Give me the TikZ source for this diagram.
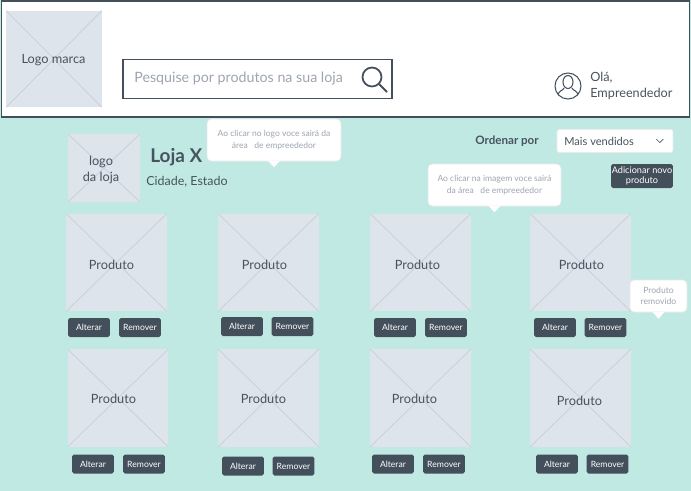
\documentclass[tikz,border=0pt]{standalone}
\usepackage{fontspec}
\setmainfont{Lato}
\usepackage{xcolor}
\usetikzlibrary{positioning,calc,shapes.geometric}
\definecolor{pagebg}{HTML}{C1E9E4}
\definecolor{imgfill}{HTML}{DEE4EC}
\definecolor{imgline}{HTML}{C6CEDA}
\definecolor{darkbtn}{HTML}{444F5C}
\definecolor{darktxt}{HTML}{47545F}
\definecolor{softtxt}{HTML}{9EA5B0}
\tikzset{
  imgbox/.style={fill=imgfill, inner sep=0pt, text=darktxt, align=center,
    path picture={\draw[imgline, line width=0.4pt] (path picture bounding box.north west) -- (path picture bounding box.south east)
      (path picture bounding box.north east) -- (path picture bounding box.south west);}},
  prodbox/.style={imgbox, minimum width=2.02cm, minimum height=1.96cm},
  prodlabel/.style={text=darktxt, font=\fontsize{7.25}{9.4}\selectfont, inner sep=0pt},
  dbtn/.style={fill=darkbtn, rounded corners=1pt, text=white, inner sep=0pt, align=center, font=\fontsize{4.9}{6}\selectfont},
  smallbtn/.style={dbtn, minimum width=0.84cm, minimum height=0.38cm},
  tipbox/.style={fill=white, draw=black!8, line width=0.3pt, rounded corners=2.5pt, inner sep=0pt, align=center, text=softtxt, font=\fontsize{4.85}{7.2}\selectfont},
  plain/.style={inner sep=0pt, text=darktxt, align=left}
}
\begin{document}
\begin{tikzpicture}[x=0.02cm,y=-0.02cm]
\useasboundingbox (0,0) rectangle (691,491);
\fill[pagebg] (0,0) rectangle (691,491);

% header
\node[draw=darkbtn, fill=white, line width=0.9pt, minimum width=13.76cm, minimum height=2.32cm, inner sep=0pt] (header) at (345.5,59) {};
\node[imgbox, minimum width=1.92cm, minimum height=1.94cm] (logomarca) at (54,59) {};
\node[prodlabel] (logotxt) at (53.5,60.5) {Logo marca};
\node[draw=darkbtn, fill=white, line width=0.9pt, minimum width=5.39cm, minimum height=0.78cm, inner sep=0pt] (search) at (257.5,79) {};
\node[inner sep=0pt, text=softtxt, font=\fontsize{8.1}{9.4}\selectfont, anchor=west] (searchtxt) at (134,79) {Pesquise por produtos na sua loja};
\node[draw=darkbtn, circle, line width=1pt, minimum size=0.38cm, inner sep=0pt] (lupa) at (372,77) {};
\coordinate (lupaend) at (387,92);
\draw[darkbtn, line width=1.1pt] (lupa.south east) -- (lupaend);
\node[draw=darkbtn, circle, line width=0.6pt, minimum size=0.52cm, inner sep=0pt] (avatar) at (568,86) {};
\node[draw=darkbtn, ellipse, line width=0.6pt, minimum width=0.2cm, minimum height=0.26cm, inner sep=0pt] (avatarhead) at (568,82) {};
\draw[darkbtn, line width=0.6pt] (558,95) .. controls (559,90) and (563,91) .. (564,88);
\draw[darkbtn, line width=0.6pt] (578,95) .. controls (577,90) and (573,91) .. (572,88);
\node[plain, anchor=west, font=\fontsize{7.2}{9.2}\selectfont] (ola) at (590,86) {Olá,\\Empreendedor};

% loja
\node[imgbox, minimum width=1.44cm, minimum height=1.36cm] (logoloja) at (104,168) {};
\node[prodlabel, align=center] (logolojatxt) at (101,170) {logo\\da loja};
\node[plain, anchor=west, font=\bfseries\fontsize{10.8}{12}\selectfont] (lojax) at (150,157.5) {Loja X};
\node[plain, anchor=west, font=\fontsize{7.1}{9.4}\selectfont] (cidade) at (146,182) {Cidade, Estado};
\node[plain, anchor=west, font=\bfseries\fontsize{6.6}{9}\selectfont] (ordenar) at (475,141) {Ordenar por};
\node[fill=white, draw=black!8, line width=0.3pt, rounded corners=1pt, minimum width=2.32cm, minimum height=0.46cm, inner sep=0pt] (dropdown) at (615,141) {};
\node[plain, anchor=west, font=\fontsize{6.3}{9}\selectfont] (maisvendidos) at (564,141.5) {Mais vendidos};
\draw[darktxt, line width=0.4pt] ($(dropdown.east)+(-17,-2)$) -- ++(3.5,3.5) -- ++(3.5,-3.5);
\node[dbtn, minimum width=1.24cm, minimum height=0.48cm, font=\fontsize{5.2}{5.6}\selectfont] (adicionar) at (642,176) {Adicionar novo\\produto};

% balões
\node[tipbox, minimum width=2.68cm, minimum height=0.84cm] (tiplogo) at (274,140) {Ao clicar no logo voce sairá da\\área~~ de empreededor};
\fill[white] ($(tiplogo.south)+(-6,-0.5)$) -- ($(tiplogo.south)+(0,6)$) -- ($(tiplogo.south)+(6,-0.5)$) -- cycle;
\node[tipbox, minimum width=2.66cm, minimum height=0.84cm] (tipimg) at (494.5,185) {Ao clicar na imagem voce sairá\\da área~~ de empreededor};
\fill[white] ($(tipimg.south)+(-6,-0.5)$) -- ($(tipimg.south)+(0,6)$) -- ($(tipimg.south)+(6,-0.5)$) -- cycle;

% produtos
\foreach \nome/\cx/\cy/\tx/\ty/\ax/\rx/\by in {
  pa/116.5/262.5/111.5/265/89/140/327.5,
  pb/268.5/262.5/264.5/265/242/292.5/326.5,
  pc/420.5/262.5/417.5/265/395/446/327.5,
  pd/580.5/262.5/581.5/265/555/605.5/327.5,
  pe/118/398/113.5/398.5/93/144/464,
  pf/268.5/398/263.5/398.5/243/293.5/466,
  pg/420.5/398/414.5/398.5/393/444/464,
  ph/580.5/398/579.5/400.5/557/607.5/464}{
  \node[prodbox] (\nome) at (\cx,\cy) {};
  \node[prodlabel] (\nome txt) at (\tx,\ty) {Produto};
  \node[smallbtn] (\nome alt) at (\ax,\by) {Alterar};
  \node[smallbtn] (\nome rem) at (\rx,\by) {Remover};
}

\node[tipbox, minimum width=1.14cm, minimum height=0.64cm, font=\fontsize{4.9}{6.2}\selectfont] (tiprem) at (658.5,296) {Produto\\removido};
\fill[white] ($(tiprem.south)+(-6,-0.5)$) -- ($(tiprem.south)+(0,6.5)$) -- ($(tiprem.south)+(6,-0.5)$) -- cycle;
\end{tikzpicture}
\end{document}
